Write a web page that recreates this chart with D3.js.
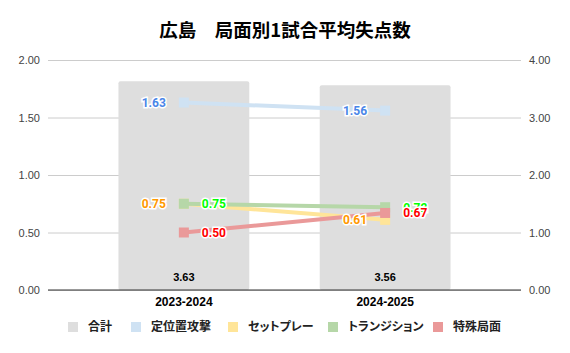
<!DOCTYPE html>
<html>
<head>
<meta charset="utf-8">
<script src="https://cdn.jsdelivr.net/npm/d3@7"></script>
<style>
  body { margin: 0; background: #fff; }
  text { font-family: "Liberation Sans", Arial, sans-serif; }
  .jp { font-family: "Noto Sans CJK JP", sans-serif; }
  .legend text { font-feature-settings: "palt"; }
</style>
</head>
<body>
<svg id="chart" width="570" height="353"></svg>
<script>
const seasons = ['2023-2024', '2024-2025'];
const totals = [3.63, 3.56];
const seriesNames = ['定位置攻撃', 'セットプレー', 'トランジション', '特殊局面'];
const setPlay = [0.75, 0.61];
const positional = [1.63, 1.56];
const transition = [0.75, 0.72];
const special = [0.50, 0.67];
const leftTicks = [0, 0.5, 1, 1.5, 2];
const rightTicks = [0, 1, 2, 3, 4];

const series = [
  { name: seriesNames[0], values: positional, color: '#cfe2f3', label: '#4a86e8', side: 'left' },
  { name: seriesNames[1], values: setPlay, color: '#ffe599', label: '#ff9900', side: 'left' },
  { name: seriesNames[2], values: transition, color: '#b6d7a8', label: '#00ff00', side: 'right' },
  { name: seriesNames[3], values: special, color: '#ea9999', label: '#ff0000', side: 'right' }
];

const margin = { top: 60, right: 49, bottom: 63, left: 48 };
const width = 570, height = 353;
const innerW = width - margin.left - margin.right;
const innerH = height - margin.top - margin.bottom;

const svg = d3.select('#chart');

svg.append('text')
  .attr('class', 'jp')
  .attr('x', width / 2)
  .attr('y', 37)
  .attr('text-anchor', 'middle')
  .style('font-size', '18.5px')
  .style('font-weight', 'bold')
  .attr('fill', '#000')
  .text('広島　局面別1試合平均失点数');

const chart = svg.append('g')
  .attr('transform', `translate(${margin.left}, ${margin.top})`);

const xscale = d3.scaleBand()
  .domain(seasons)
  .range([0, innerW])
  .paddingInner(0.35)
  .paddingOuter(0.35);

const yscale = d3.scaleLinear().domain([0, 2]).range([innerH, 0]);
const y2scale = d3.scaleLinear().domain([0, 4]).range([innerH, 0]);

// gridlines + left axis
const yaxis = d3.axisLeft(yscale)
  .tickValues(leftTicks)
  .tickFormat(d3.format('.2f'))
  .tickSize(-innerW)
  .tickPadding(8);

const ygroup = chart.append('g').call(yaxis);
ygroup.select('.domain').remove();
ygroup.selectAll('line').attr('stroke', '#cccccc');
ygroup.selectAll('text').style('font-size', '11px').attr('fill', '#444');

const y2axis = d3.axisRight(y2scale)
  .tickValues(rightTicks)
  .tickFormat(d3.format('.2f'))
  .tickSize(0)
  .tickPadding(8);

const y2group = chart.append('g')
  .attr('transform', `translate(${innerW}, 0)`)
  .call(y2axis);
y2group.select('.domain').remove();
y2group.selectAll('text').style('font-size', '11px').attr('fill', '#444');

// total bars
chart.selectAll('rect.bar')
  .data(seasons)
  .enter()
  .append('rect')
  .attr('class', 'bar')
  .attr('x', d => xscale(d))
  .attr('y', (d, i) => y2scale(totals[i]))
  .attr('width', xscale.bandwidth())
  .attr('height', (d, i) => innerH - y2scale(totals[i]))
  .attr('rx', 2)
  .attr('fill', '#dedede');

chart.selectAll('text.total')
  .data(seasons)
  .enter()
  .append('text')
  .attr('class', 'total')
  .attr('x', d => xscale(d) + xscale.bandwidth() / 2)
  .attr('y', innerH - 9)
  .attr('text-anchor', 'middle')
  .style('font-size', '11px')
  .style('font-weight', 'bold')
  .attr('fill', '#000')
  .text((d, i) => totals[i].toFixed(2));

// baseline
chart.append('line')
  .attr('x1', 0).attr('x2', innerW)
  .attr('y1', innerH).attr('y2', innerH)
  .attr('stroke', '#333');

// x axis labels
const xaxis = d3.axisBottom(xscale).tickSize(0).tickPadding(7);
const xgroup = chart.append('g')
  .attr('transform', `translate(0, ${innerH})`)
  .call(xaxis);
xgroup.select('.domain').remove();
xgroup.selectAll('text')
  .style('font-size', '12px')
  .style('font-weight', 'bold')
  .attr('fill', '#000');

const cx = d => xscale(d) + xscale.bandwidth() / 2;

const line = d3.line()
  .x(d => cx(d.season))
  .y(d => yscale(d.value));

series.forEach(s => {
  const pts = seasons.map((season, i) => ({ season, value: s.values[i] }));
  const g = chart.append('g');
  g.append('path')
    .datum(pts)
    .attr('d', line)
    .attr('fill', 'none')
    .attr('stroke', s.color)
    .attr('stroke-width', 4);
  g.selectAll('rect')
    .data(pts)
    .enter()
    .append('rect')
    .attr('x', d => cx(d.season) - 5)
    .attr('y', d => yscale(d.value) - 5)
    .attr('width', 10)
    .attr('height', 10)
    .attr('fill', s.color);
  s.pts = pts;
});

// data labels on top
series.forEach(s => {
  chart.append('g').selectAll('text')
    .data(s.pts)
    .enter()
    .append('text')
    .attr('x', d => cx(d.season) + (s.side === 'left' ? -18 : 18))
    .attr('y', d => yscale(d.value))
    .attr('dy', '0.36em')
    .attr('text-anchor', s.side === 'left' ? 'end' : 'start')
    .style('font-family', 'Roboto, sans-serif')
    .style('font-size', '12px')
    .style('font-weight', 'bold')
    .attr('fill', s.label)
    .attr('stroke', '#fff')
    .attr('stroke-width', 3)
    .attr('paint-order', 'stroke')
    .text(d => d.value.toFixed(2));
});

// legend
const legendItems = [{ name: '合計', color: '#dedede' }].concat(series);
const legendX = [68, 131, 228, 328, 433];
const legend = svg.append('g')
  .attr('class', 'legend')
  .attr('transform', 'translate(0, 327)');
legend.selectAll('rect')
  .data(legendItems)
  .enter()
  .append('rect')
  .attr('x', (d, i) => legendX[i])
  .attr('y', -5)
  .attr('width', 10)
  .attr('height', 10)
  .attr('fill', d => d.color);
legend.selectAll('text')
  .data(legendItems)
  .enter()
  .append('text')
  .attr('class', 'jp')
  .attr('x', (d, i) => legendX[i] + 20)
  .attr('y', 0)
  .attr('dy', '0.35em')
  .style('font-size', '12px')
  .style('font-weight', 'bold')
  .attr('fill', '#222')
  .text(d => d.name);
</script>
</body>
</html>
